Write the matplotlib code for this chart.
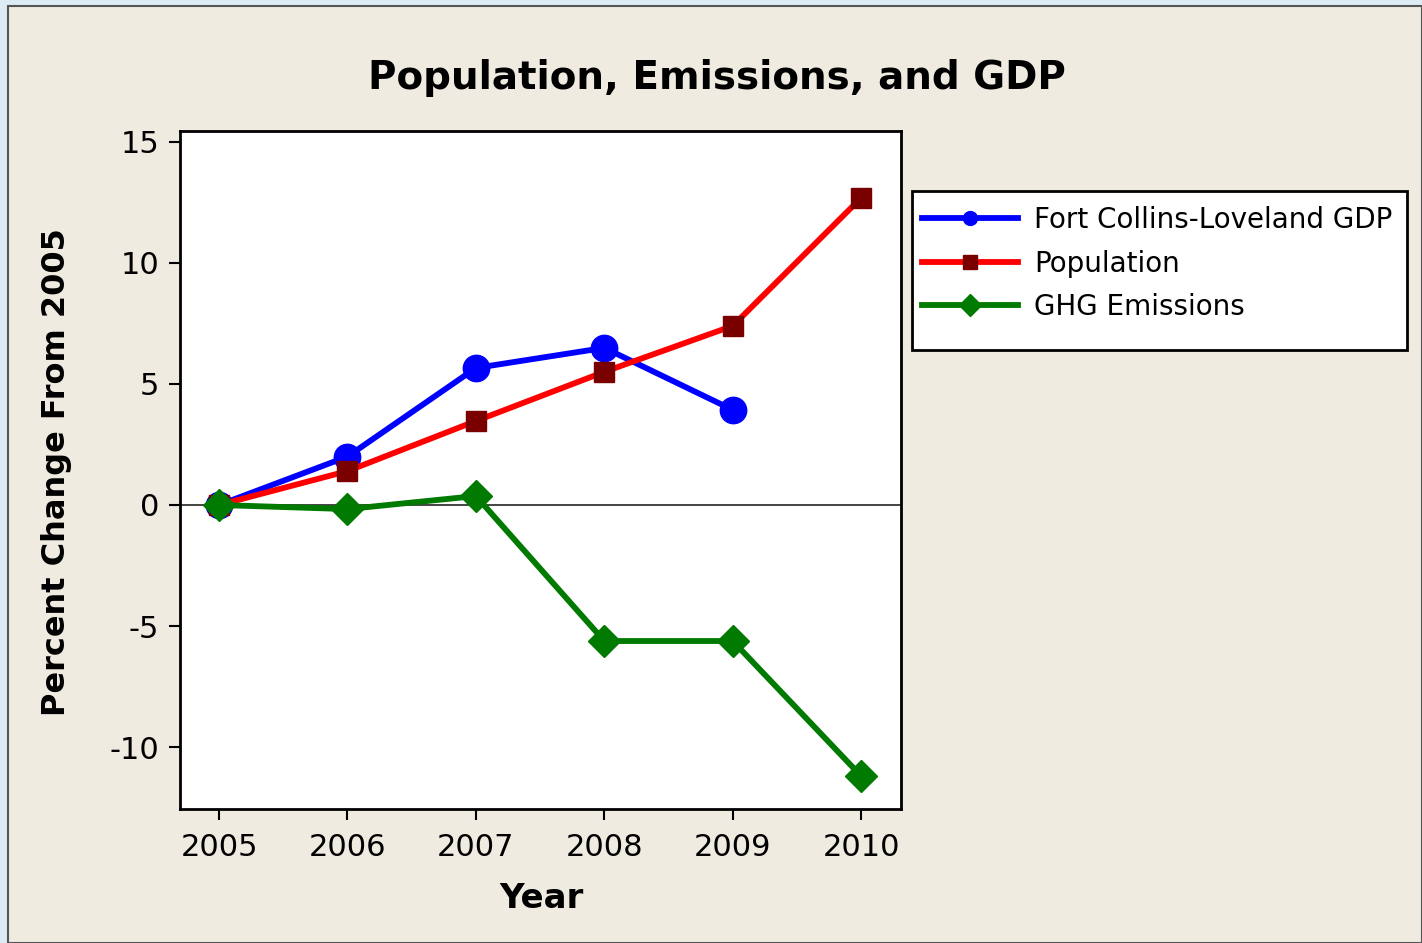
import matplotlib
matplotlib.use("Agg")
import matplotlib.pyplot as plt
from matplotlib.patches import Rectangle
from matplotlib.lines import Line2D

years = [2005, 2006, 2007, 2008, 2009, 2010]
gdp_years = [2005, 2006, 2007, 2008, 2009]
gdp = [0.0, 2.0, 5.66, 6.49, 3.93]
population = [0.0, 1.40, 3.47, 5.50, 7.40, 12.69]
ghg = [0.0, -0.17, 0.37, -5.62, -5.62, -11.2]
yticks = [-10, -5, 0, 5, 10, 15]

W, H = 1422, 943
fig = plt.figure(figsize=(W / 100, H / 100), dpi=100)
bg = "#EFEBE1"
fig.patch.set_facecolor("#DDEBF5")
# beige panel with grey border (screenshot frame)
fig.patches.append(Rectangle((8 / W, 0), 1 - 8 / W, 1 - 6 / H, transform=fig.transFigure,
                             facecolor=bg, edgecolor="#555555", linewidth=1.5, zorder=-10))

ax = fig.add_axes([180 / W, 1 - 809 / H, (901 - 180) / W, (809 - 131) / H])
ax.set_zorder(2)
ax.set_facecolor("white")
ax.set_xlim(2004.696, 2010.31)
ax.set_ylim(-12.56, 15.45)
ax.axhline(0, color="#444444", linewidth=1.4, zorder=1)

lw = 4.2
ax.plot(gdp_years, gdp, color="#0000FF", linewidth=lw, marker="o", markersize=19,
        markerfacecolor="#0000FF", markeredgecolor="#0000FF", zorder=3)
ax.plot(years, population, color="#FF0000", linewidth=lw, marker="s", markersize=14.5,
        markerfacecolor="#7A0000", markeredgecolor="#7A0000", zorder=4)
ax.plot(years, ghg, color="#007A00", linewidth=lw, marker="D", markersize=16.5,
        markerfacecolor="#007A00", markeredgecolor="#007A00", zorder=5)

ax.set_xticks(years)
ax.set_xticklabels([str(y) for y in years])
ax.set_yticks(yticks)
ax.set_yticklabels([str(v) for v in yticks])
ax.tick_params(axis="both", direction="out", length=8, width=1.5, labelsize=22,
               colors="black")
ax.tick_params(axis="x", pad=9)
ax.tick_params(axis="y", pad=7)
for s in ax.spines.values():
    s.set_linewidth(2)
    s.set_color("black")

fig.text(717 / W, 1 - 78 / H, "Population, Emissions, and GDP", ha="center", va="center",
         fontsize=28, fontweight="bold")
fig.text(541 / W, 1 - 898 / H, "Year", ha="center", va="center", fontsize=24.5, fontweight="bold")
fig.text(57 / W, 1 - 472 / H, "Percent Change From 2005", ha="center", va="center",
         rotation=90, fontsize=23, fontweight="bold")

# legend frame
fig.patches.append(Rectangle((912 / W, 1 - 350 / H), (1407 - 912) / W, (350 - 191) / H,
                             transform=fig.transFigure, facecolor="white", edgecolor="black",
                             linewidth=2, zorder=1))

handles = [
    Line2D([], [], color="#0000FF", linewidth=lw, marker="o", markersize=10,
           markerfacecolor="#0000FF", markeredgecolor="#0000FF"),
    Line2D([], [], color="#FF0000", linewidth=lw, marker="s", markersize=10,
           markerfacecolor="#7A0000", markeredgecolor="#7A0000"),
    Line2D([], [], color="#007A00", linewidth=lw, marker="D", markersize=11,
           markerfacecolor="#007A00", markeredgecolor="#007A00"),
]
labels = ["Fort Collins-Loveland GDP", "Population", "GHG Emissions"]
leg = fig.legend(handles, labels, loc="upper left",
                 bbox_to_anchor=(922 / W, 1 - 206 / H), bbox_transform=fig.transFigure,
                 fontsize=20, frameon=False, handlelength=3.45, handletextpad=0.6,
                 labelspacing=0.56, borderpad=0, borderaxespad=0)
leg.set_zorder(3)

fig.savefig("out.png", dpi=100, facecolor=fig.get_facecolor())
